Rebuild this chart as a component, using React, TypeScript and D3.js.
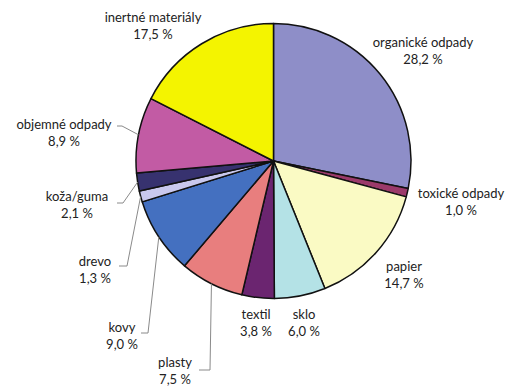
import React from "react";
import * as d3 from "d3";

// composition of municipal waste, % (clockwise from 12 o'clock)
const categories = [
  "organické odpady",
  "toxické odpady",
  "papier",
  "sklo",
  "textil",
  "plasty",
  "kovy",
  "drevo",
  "koža/guma",
  "objemné odpady",
  "inertné materiály",
];
const values = [28.2, 1.0, 14.7, 6.0, 3.8, 7.5, 9.0, 1.3, 2.1, 8.9, 17.5];
const valueLabels = ["28,2 %", "1,0 %", "14,7 %", "6,0 %", "3,8 %", "7,5 %", "9,0 %", "1,3 %", "2,1 %", "8,9 %", "17,5 %"];
const colors = [
  "#8e8ec8", "#9b3a6a", "#fafac4", "#b4e2e6", "#6b2570", "#e87e7e",
  "#4470c0", "#c9c8ee", "#37326f", "#c25ba4", "#f4f400",
];

// label placement: text centre x, first baseline y, optional leader start/elbow
const labelLayout: { x: number; y: number; lead?: [number, number][] }[] = [
  { x: 423, y: 47 },
  { x: 461, y: 198 },
  { x: 404, y: 271 },
  { x: 304, y: 319 },
  { x: 256, y: 319 },
  { x: 175, y: 367, lead: [[199, 370], [210, 370]] },
  { x: 122, y: 332, lead: [[141, 333], [148, 333]] },
  { x: 95, y: 266, lead: [[119, 266], [127, 266]] },
  { x: 77, y: 201, lead: [[117, 203], [123, 203]] },
  { x: 64, y: 129, lead: [[117, 126], [122, 126]] },
  { x: 153, y: 22 },
];

const cx = 273.5;
const cy = 161;
const radius = 137.5;

export default function App() {
  const data = categories.map((name, i) => ({ name, value: values[i], i }));
  const pie = d3.pie<any>().value((d) => d.value).sort(null);
  const arcs = pie(data);
  const arc = d3.arc<any>().innerRadius(0).outerRadius(radius);
  const edge = (a: any) => {
    const m = (a.startAngle + a.endAngle) / 2;
    return [cx + radius * Math.sin(m), cy - radius * Math.cos(m)] as [number, number];
  };
  const line = d3.line();

  return (
    <svg width={523} height={388} style={{ position: "absolute", left: 0, top: 0 }}>
      <rect width={523} height={388} fill="#fff" />
      <g transform={`translate(${cx},${cy})`}>
        {arcs.map((a) => (
          <path key={a.data.name} d={arc(a) || ""} fill={colors[a.data.i]} stroke="#111" strokeWidth={1.5} strokeLinejoin="round" />
        ))}
      </g>
      {arcs.map((a, i) => {
        const l = labelLayout[i];
        if (!l.lead) return null;
        return <path key={"lead" + i} d={line([...l.lead, edge(a)]) || ""} fill="none" stroke="#8a8a8a" strokeWidth={1} />;
      })}
      <g fontFamily="Lato, 'Open Sans', sans-serif" fontSize={13} fill="#222" textAnchor="middle">
        {categories.map((c, i) => (
          <text key={c} x={labelLayout[i].x} y={labelLayout[i].y}>
            <tspan x={labelLayout[i].x}>{c}</tspan>
            <tspan x={labelLayout[i].x} dy={17}>{valueLabels[i]}</tspan>
          </text>
        ))}
      </g>
    </svg>
  );
}
